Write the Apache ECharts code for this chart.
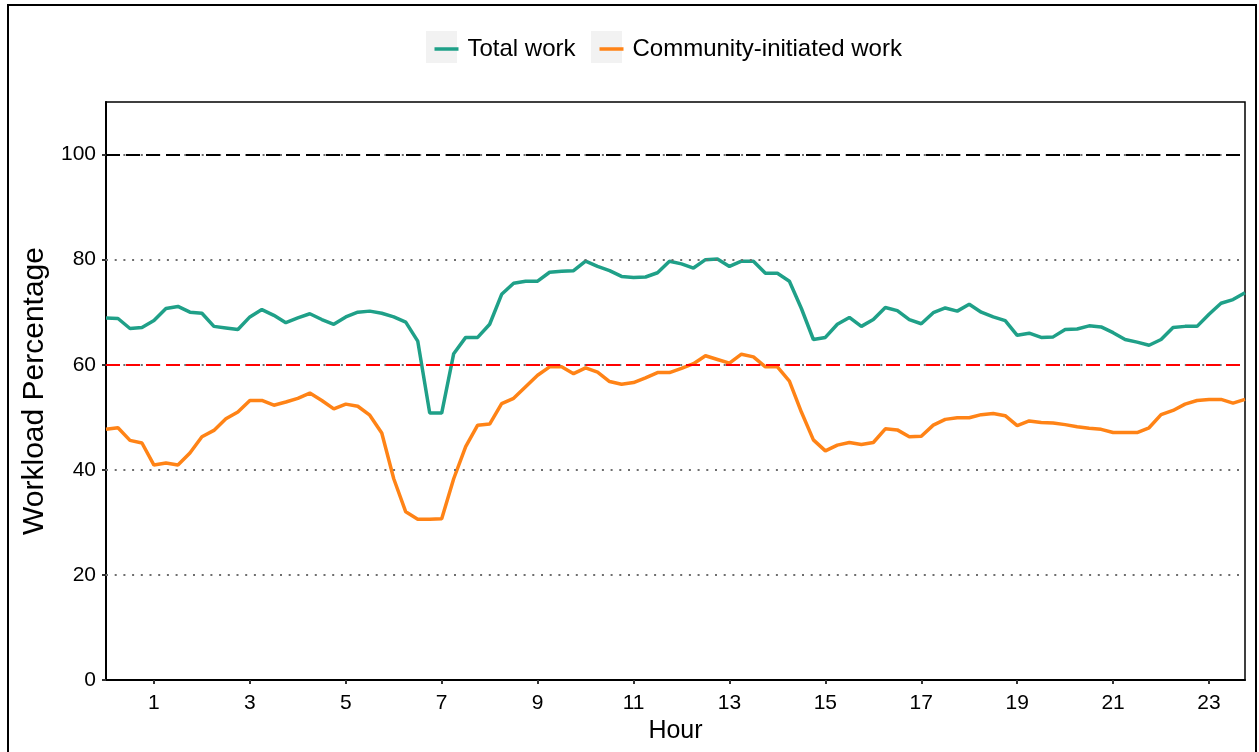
<!DOCTYPE html>
<html>
<head>
<meta charset="utf-8">
<title>Workload Percentage</title>
<script src="https://cdn.jsdelivr.net/npm/echarts@6/dist/echarts.min.js"></script>
<style>
  html, body { margin: 0; padding: 0; background: #fff; }
  #chart { width: 1259px; height: 752px; }
</style>
</head>
<body>
<div id="chart"></div>
<script>
// 15-minute steps over one day
const hours = Array.from({ length: 96 }, (_, i) => i * 0.25)

const totalWork = [
  68.9, 68.8, 66.9, 67.1, 68.4, 70.7, 71.1, 70.0, 69.8, 67.3, 67.0, 66.7,
  69.1, 70.5, 69.4, 68.0, 68.9, 69.7, 68.6, 67.7, 69.1, 70.0, 70.2, 69.8,
  69.1, 68.1, 64.5, 50.8, 50.8, 62.1, 65.2, 65.2, 67.7, 73.4, 75.5, 75.9,
  75.9, 77.6, 77.8, 77.9, 79.7, 78.7, 77.9, 76.8, 76.6, 76.7, 77.5, 79.7,
  79.2, 78.4, 80.0, 80.1, 78.7, 79.7, 79.7, 77.4, 77.4, 75.9, 70.7, 64.8,
  65.2, 67.7, 69.0, 67.3, 68.6, 70.9, 70.3, 68.6, 67.8, 69.9, 70.8, 70.2,
  71.5, 70.0, 69.1, 68.4, 65.6, 66.0, 65.2, 65.3, 66.7, 66.8, 67.4, 67.2,
  66.1, 64.8, 64.3, 63.7, 64.8, 67.1, 67.3, 67.3, 69.6, 71.7, 72.4, 73.7,
]

const communityWork = [
  47.7, 48.0, 45.6, 45.1, 40.9, 41.3, 40.9, 43.2, 46.3, 47.5, 49.7, 51.0,
  53.2, 53.2, 52.3, 52.9, 53.6, 54.6, 53.2, 51.6, 52.5, 52.1, 50.4, 47.0,
  38.3, 32.0, 30.6, 30.6, 30.7, 38.3, 44.4, 48.5, 48.7, 52.6, 53.6, 55.8,
  58.0, 59.6, 59.6, 58.3, 59.4, 58.6, 56.8, 56.3, 56.6, 57.5, 58.5, 58.5,
  59.3, 60.2, 61.7, 61.0, 60.3, 62.0, 61.5, 59.6, 59.6, 56.9, 51.0, 45.7,
  43.6, 44.7, 45.2, 44.8, 45.2, 47.8, 47.6, 46.3, 46.4, 48.5, 49.6, 49.9,
  49.9, 50.5, 50.7, 50.3, 48.4, 49.3, 49.0, 48.9, 48.6, 48.2, 47.9, 47.7,
  47.1, 47.1, 47.1, 48.0, 50.5, 51.3, 52.5, 53.2, 53.4, 53.4, 52.7, 53.4,
]

const xTicks = [1, 3, 5, 7, 9, 11, 13, 15, 17, 19, 21, 23]
const yTicks = [0, 20, 40, 60, 80, 100]
const gridLines = [20, 40, 60, 80, 100]
const limitLine = 60
const capacityLine = 100

const font = 'Liberation Sans, Arial, sans-serif'

function pairs(values) {
  return values.map((v, i) => [hours[i], v])
}

const chart = echarts.init(document.getElementById('chart'))

const legendText = { fontSize: 24, color: '#000', fontFamily: font, padding: [0, 0, 0, 4], lineHeight: 24 }

const option = {
  animation: false,
  textStyle: { fontFamily: font },
  graphic: [
    // outer frame
    {
      type: 'rect',
      shape: { x: 8, y: 5, width: 1248, height: 800 },
      style: { fill: 'none', stroke: '#000', lineWidth: 2 },
      silent: true,
      z: -10,
    },
    // grey legend key backgrounds
    {
      type: 'rect',
      shape: { x: 426, y: 31, width: 31, height: 32 },
      style: { fill: '#F2F2F2' },
      silent: true,
      z: -5,
    },
    {
      type: 'rect',
      shape: { x: 591, y: 31, width: 31, height: 32 },
      style: { fill: '#F2F2F2' },
      silent: true,
      z: -5,
    },
  ],
  legend: [{
    data: ['Total work'],
    left: 429.5,
    top: 32,
    icon: 'rect',
    itemWidth: 24,
    itemHeight: 3.5,
    textStyle: legendText,
  }, {
    data: ['Community-initiated work'],
    left: 594.5,
    top: 32,
    icon: 'rect',
    itemWidth: 24,
    itemHeight: 3.5,
    textStyle: legendText,
  }],
  grid: {
    left: 106,
    right: 14,
    top: 102,
    bottom: 72,
    show: true,
    borderColor: '#000',
    borderWidth: 1.5,
    containLabel: false,
  },
  xAxis: {
    type: 'value',
    min: 0,
    max: 23.75,
    name: 'Hour',
    nameLocation: 'middle',
    nameGap: 34,
    nameTextStyle: { fontSize: 25, color: '#000', fontFamily: font },
    axisLine: { onZero: false, lineStyle: { color: '#000', width: 2 } },
    axisTick: { show: true, length: 4, customValues: xTicks, lineStyle: { color: '#333', width: 2 } },
    axisLabel: { customValues: xTicks, fontSize: 21, color: '#000', margin: 13, fontFamily: font },
    splitLine: { show: false },
  },
  yAxis: {
    type: 'value',
    min: 0,
    max: 110,
    name: 'Workload Percentage',
    nameLocation: 'middle',
    nameRotate: 90,
    nameGap: 55,
    nameTextStyle: { fontSize: 30, color: '#000', fontFamily: font },
    axisLine: { show: true, lineStyle: { color: '#000', width: 2 } },
    axisTick: { show: true, length: 4, customValues: yTicks, lineStyle: { color: '#333', width: 2 } },
    axisLabel: { customValues: yTicks, fontSize: 21, color: '#000', margin: 10, fontFamily: font },
    splitLine: { show: false },
  },
  series: [
    {
      // dotted grid + reference lines
      name: 'refs',
      type: 'line',
      data: [],
      silent: true,
      z: 1,
      markLine: {
        silent: true,
        symbol: 'none',
        label: { show: false },
        animation: false,
        data: [
          ...gridLines.map(v => ({
            yAxis: v,
            lineStyle: { color: '#6E6E6E', width: 2, type: [2, 6.7], cap: 'butt' },
          })),
          { yAxis: limitLine, lineStyle: { color: '#FF0000', width: 2.2, type: [14, 6] } },
          { yAxis: capacityLine, lineStyle: { color: '#000', width: 2.2, type: [14, 6] } },
        ],
      },
    },
    {
      name: 'Total work',
      type: 'line',
      data: pairs(totalWork),
      showSymbol: false,
      z: 3,
      itemStyle: { color: '#1FA088' },
      lineStyle: { color: '#1FA088', width: 3.5 },
    },
    {
      name: 'Community-initiated work',
      type: 'line',
      data: pairs(communityWork),
      showSymbol: false,
      z: 4,
      itemStyle: { color: '#FF8316' },
      lineStyle: { color: '#FF8316', width: 3.5 },
    },
  ],
}

chart.setOption(option)
</script>
</body>
</html>
